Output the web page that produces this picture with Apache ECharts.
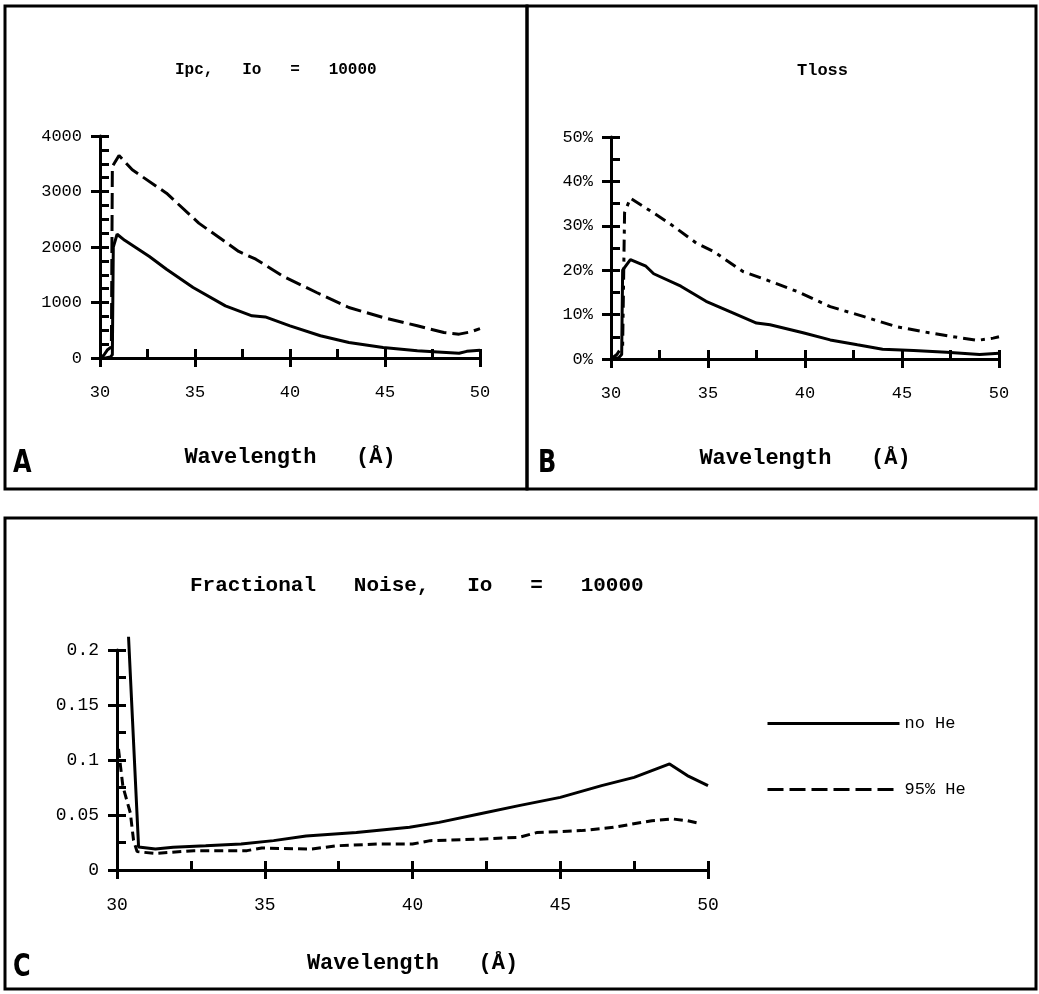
<!DOCTYPE html>
<html>
<head>
<meta charset="utf-8">
<script src="https://cdn.jsdelivr.net/npm/echarts@6/dist/echarts.min.js"></script>
<style>
  html, body { margin: 0; padding: 0; background: #fff; }
  #main { width: 1039px; height: 994px; }
</style>
</head>
<body>
<div id="main"></div>
<script>
// wavelength (Å) vs value
var ipcNoHe = [[30, 0], [30.3, 0], [30.55, 20], [30.65, 60], [30.7, 2000], [30.9, 2230], [31.3, 2120], [32.6, 1830], [33.5, 1600], [34.9, 1270], [36.6, 940], [38.0, 760], [38.7, 740], [40.0, 580], [41.6, 400], [43.1, 280], [44.9, 190], [46.7, 130], [48.0, 105], [48.9, 85], [49.3, 120], [50, 140]];
var ipcHe95 = [[30, 0], [30.2, 50], [30.4, 150], [30.6, 200], [30.65, 3450], [31.0, 3650], [31.7, 3390], [33.5, 2970], [35.2, 2430], [37.3, 1920], [38.2, 1780], [39.6, 1480], [41.4, 1180], [43.1, 910], [44.9, 730], [46.7, 580], [48.1, 460], [48.9, 430], [49.5, 470], [50, 530]];

var tlossNoHe = [[30, 0], [30.4, 0.3], [30.55, 1], [30.6, 20], [31.0, 22.4], [31.8, 20.9], [32.2, 19.2], [33.6, 16.4], [34.9, 13.0], [36.1, 10.7], [37.5, 8.1], [38.2, 7.7], [39.9, 5.9], [41.3, 4.3], [42.7, 3.2], [44.0, 2.2], [45.6, 1.9], [47.3, 1.5], [49.0, 1.0], [50, 1.3]];
var tlossHe95 = [[30, 0], [30.3, 1], [30.6, 3], [30.7, 33], [31.0, 36.2], [31.8, 34.0], [33.0, 30.6], [34.4, 26.1], [35.3, 24.2], [36.8, 19.7], [37.9, 18.0], [39.6, 15.2], [41.3, 11.8], [43.0, 9.6], [44.7, 7.3], [46.4, 5.9], [48.1, 4.7], [48.9, 4.2], [49.7, 4.7], [50, 5.0]];

var noiseNoHe = [[30.39, 0.212], [30.73, 0.021], [31.3, 0.019], [31.9, 0.0206], [33.0, 0.022], [34.2, 0.0236], [35.3, 0.0267], [36.4, 0.031], [38.1, 0.034], [39.9, 0.0388], [40.9, 0.0433], [42.25, 0.0509], [43.6, 0.0585], [45.0, 0.066], [46.4, 0.0767], [47.5, 0.0842], [48.7, 0.0964], [49.3, 0.0858], [50, 0.0767]];
var noiseHe95 = [[30.05, 0.11], [30.2, 0.076], [30.45, 0.052], [30.56, 0.027], [30.68, 0.0167], [31.3, 0.015], [32.6, 0.0176], [34.4, 0.0176], [34.9, 0.02], [36.6, 0.019], [37.4, 0.022], [38.8, 0.0236], [40.0, 0.0236], [40.6, 0.0267], [42.25, 0.028], [43.6, 0.0297], [44.2, 0.034], [45.7, 0.0358], [46.8, 0.0388], [48.1, 0.0448], [48.8, 0.0464], [49.3, 0.0448], [49.7, 0.0424]];

var seriesNames = ['no He', '95% He'];
var panelTitles = ['Ipc,   Io   =   10000', 'Tloss', 'Fractional   Noise,   Io   =   10000'];
var xTitle = 'Wavelength   (Å)';

var mono = '"Liberation Mono", "DejaVu Sans Mono", monospace';
var black = '#000';

function xAxes(gi, labelSize, nameGap) {
    return [{
        gridIndex: gi, type: 'value', position: 'bottom', min: 30, max: 50, interval: 5,
        axisLine: { lineStyle: { color: black, width: 3 } },
        axisTick: { length: 9, lineStyle: { color: black, width: 3 } },
        axisLabel: { color: black, fontFamily: mono, fontSize: labelSize, margin: 26 },
        splitLine: { show: false },
        name: xTitle, nameLocation: 'middle', nameGap: nameGap,
        nameTextStyle: { color: black, fontFamily: mono, fontWeight: 'bold', fontSize: 22 }
    }, {
        // second copy of the axis only to draw the ticks on the inner side
        gridIndex: gi, type: 'value', position: 'bottom', offset: 0, min: 30, max: 50, interval: 5,
        axisLine: { show: false },
        axisTick: { inside: true, length: 9, lineStyle: { color: black, width: 3 } },
        minorTick: { show: true, splitNumber: 2, length: 9, lineStyle: { color: black, width: 3 } },
        axisLabel: { show: false },
        splitLine: { show: false }
    }];
}

function yAxes(gi, max, interval, minorSplit, labelSize, suffix) {
    return [{
        gridIndex: gi, type: 'value', position: 'left', min: 0, max: max, interval: interval,
        axisLine: { show: true, lineStyle: { color: black, width: 3 } },
        axisTick: { show: true, length: 9, lineStyle: { color: black, width: 3 } },
        axisLabel: {
            color: black, fontFamily: mono, fontSize: labelSize, margin: 18,
            formatter: function (v) { return String(+v.toFixed(4)) + suffix; }
        },
        splitLine: { show: false }
    }, {
        gridIndex: gi, type: 'value', position: 'left', offset: 0, min: 0, max: max, interval: interval,
        axisLine: { show: false },
        axisTick: { show: true, inside: true, length: 9, lineStyle: { color: black, width: 3 } },
        minorTick: { show: true, splitNumber: minorSplit, length: 9, lineStyle: { color: black, width: 3 } },
        axisLabel: { show: false },
        splitLine: { show: false }
    }];
}

function line(name, data, gi, dash, clip) {
    return {
        name: name, type: 'line', data: data,
        xAxisIndex: gi * 2, yAxisIndex: gi * 2,
        symbol: 'none', showSymbol: false, clip: clip !== false,
        lineStyle: { color: black, width: 3, type: dash },
        itemStyle: { color: black }
    };
}

var chart = echarts.init(document.getElementById('main'));
chart.setOption({
    animation: false,
    backgroundColor: '#fff',
    title: [
        { text: panelTitles[0], left: 170, top: 57, textStyle: { color: black, fontFamily: mono, fontWeight: 'bold', fontSize: 16 } },
        { text: panelTitles[1], left: 792, top: 57, textStyle: { color: black, fontFamily: mono, fontWeight: 'bold', fontSize: 17 } },
        { text: panelTitles[2], left: 185, top: 570, textStyle: { color: black, fontFamily: mono, fontWeight: 'bold', fontSize: 21 } }
    ],
    legend: {
        data: seriesNames, orient: 'vertical', left: 766, top: 715, padding: 0,
        itemWidth: 132, itemHeight: 14, itemGap: 49,
        itemStyle: { color: 'rgba(0,0,0,0)', borderColor: 'rgba(0,0,0,0)', borderWidth: 0 },
        lineStyle: { width: 3 },
        textStyle: { color: black, fontFamily: mono, fontSize: 17 }
    },
    grid: [
        { left: 100, top: 136, width: 380, height: 222 },
        { left: 611, top: 137, width: 388, height: 222 },
        { left: 117, top: 650, width: 591, height: 220 }
    ],
    xAxis: [].concat(xAxes(0, 17, 88), xAxes(1, 17, 88), xAxes(2, 18, 82)),
    yAxis: [].concat(
        yAxes(0, 4000, 1000, 4, 17, ''),
        yAxes(1, 50, 10, 2, 17, '%'),
        yAxes(2, 0.2, 0.05, 2, 18, '')
    ),
    series: [
        line(seriesNames[0], ipcNoHe, 0, 'solid'),
        line(seriesNames[1], ipcHe95, 0, [16, 6]),
        line(seriesNames[0], tlossNoHe, 1, 'solid'),
        line(seriesNames[1], tlossHe95, 1, [12, 6, 4, 6]),
        line(seriesNames[0], noiseNoHe, 2, 'solid', false),
        line(seriesNames[1], noiseHe95, 2, [9, 5])
    ],
    graphic: [
        { type: 'rect', shape: { x: 5, y: 6, width: 522, height: 483 }, style: { fill: 'none', stroke: black, lineWidth: 3 } },
        { type: 'rect', shape: { x: 527, y: 6, width: 509, height: 483 }, style: { fill: 'none', stroke: black, lineWidth: 3 } },
        { type: 'rect', shape: { x: 5, y: 518, width: 1031, height: 471 }, style: { fill: 'none', stroke: black, lineWidth: 3 } },
        { type: 'text', x: 13, y: 448, scaleX: 0.75, style: { text: 'A', font: 'bold 32px "DejaVu Sans"', fill: black } },
        { type: 'text', x: 538, y: 448, scaleX: 0.75, style: { text: 'B', font: 'bold 32px "DejaVu Sans"', fill: black } },
        { type: 'text', x: 13, y: 952, scaleX: 0.75, style: { text: 'C', font: 'bold 32px "DejaVu Sans"', fill: black } }
    ]
});
</script>
</body>
</html>
